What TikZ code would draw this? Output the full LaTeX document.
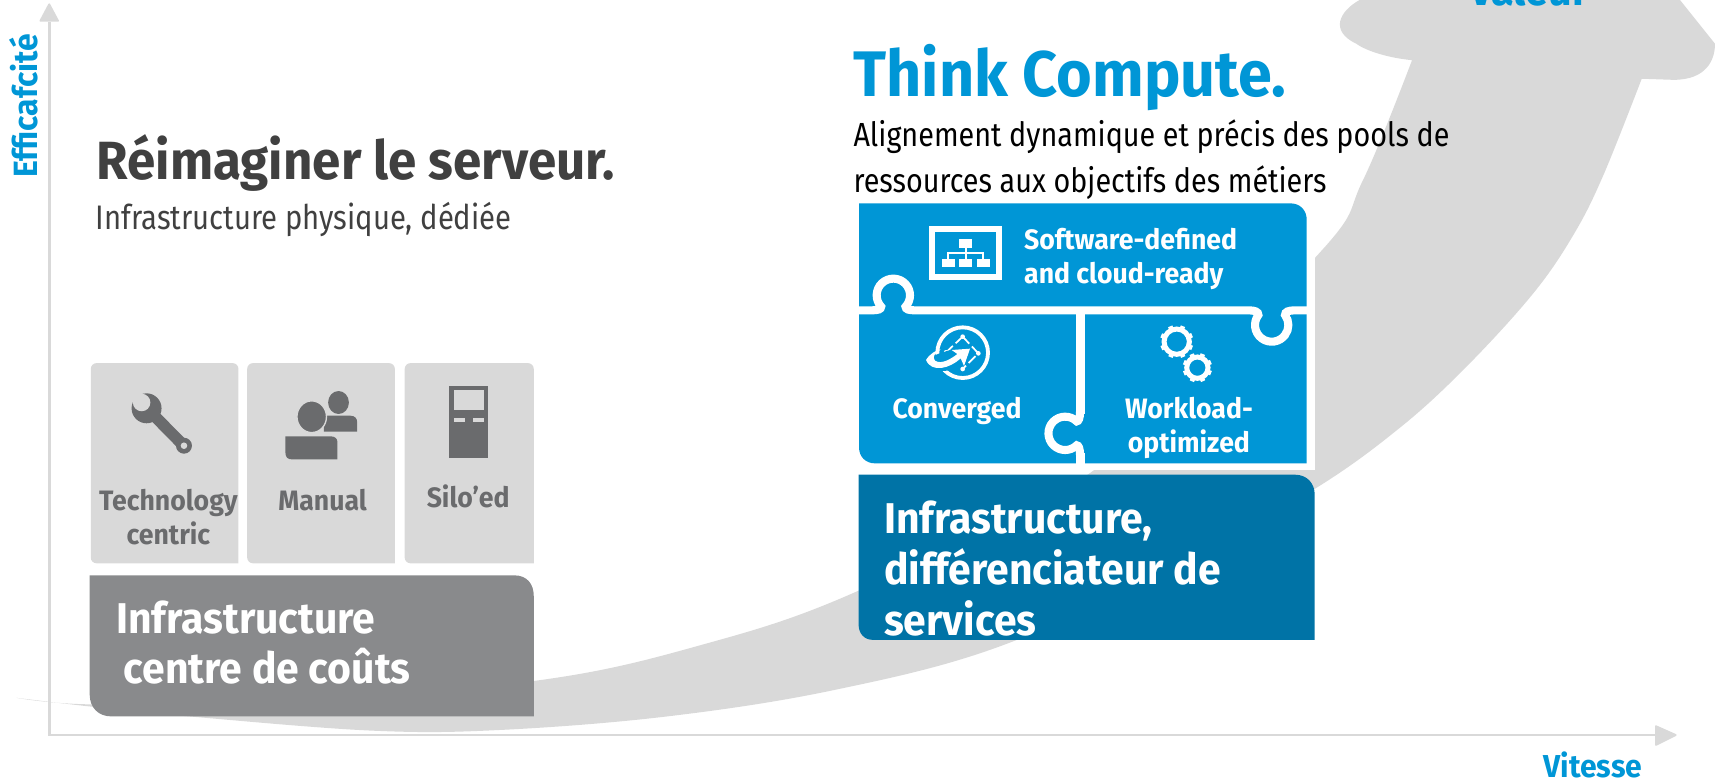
\documentclass[tikz,border=0pt]{standalone}
\usepackage{fontspec}
\setmainfont{Fira Sans}[UprightFeatures={FakeStretch=0.86}, BoldFeatures={FakeStretch=0.95}]
\usetikzlibrary{calc}
\definecolor{hpblue}{HTML}{0096D6}
\definecolor{hpdark}{HTML}{0073A6}
\definecolor{axisgray}{HTML}{D9D9D9}
\definecolor{midgray}{HTML}{898A8C}
\definecolor{icongray}{HTML}{6A6B6D}
\definecolor{titlegray}{HTML}{404040}
\begin{document}
\begin{tikzpicture}[x=0.02cm, y=-0.02cm,
    axisline/.style={draw=axisgray, line width=1.4pt},
    axishead/.style={fill=axisgray, draw=axisgray, line width=1pt, line join=round},
    gapline/.style={draw=white, line width=4.2pt},
    txt/.style={inner sep=0pt, anchor=base west},
    txtmid/.style={inner sep=0pt, anchor=base},
    ttlblue/.style={txt, text=hpblue, font=\fontsize{33.5}{33.5}\selectfont\bfseries},
    ttlgray/.style={txt, text=titlegray, font=\fontsize{28}{28}\selectfont\bfseries},
    subgray/.style={txt, text=titlegray, font=\fontsize{17.7}{17.7}\selectfont},
    subblack/.style={txt, text=black, font=\fontsize{17.4}{17.4}\selectfont},
    tabgray/.style={txtmid, text=icongray, font=\fontsize{14.6}{14.6}\selectfont\bfseries},
    tabwhite/.style={txtmid, text=white, font=\fontsize{14.6}{14.6}\selectfont\bfseries},
    bandtxt/.style={txt, text=white, font=\fontsize{22.4}{22.4}\selectfont\bfseries},
    axislbl/.style={inner sep=0pt, text=hpblue, font=\fontsize{16.5}{16.5}\selectfont\bfseries}]
\clip (0,0) rectangle (1568,714);
\fill[axisgray] plot[smooth, tension=0.6] coordinates {(15,638) (83,646) (173,655) (340,668) (457,667.4) (610,655) (762,631) (914,591) (1080,515) (1202,447) (1280,391) (1341,335) (1402,268) (1439,214) (1466,160) (1501,72)}
    -- (1530,73) .. controls (1560,73) and (1568,55) .. (1568,40) -- (1536,0) -- (1243,0)
    .. controls (1225,10) and (1215,28) .. (1240,40) .. controls (1250,47) and (1270,53) .. (1291,55)
    -- plot[smooth, tension=0.6] coordinates {(1291,55) (1246,165) (1202,236) (1000,430) (785,540) (640,590) (488,622.6) (250,642) (83,644) (15,638)} -- cycle;
\draw[axisline] (45,20) -- (45,672) -- (1514,672);
\filldraw[axishead] (45,4) -- (37,19) -- (53,19) -- cycle;
\filldraw[axishead] (1532,672) -- (1514,664) -- (1514,681) -- cycle;
\node[axislbl, rotate=90, anchor=west, font=\fontsize{17.5}{17.5}\selectfont\bfseries] (effic) at (22,163) {Efficafcité};
\node[axislbl, anchor=base east] (vitesse) at (1502,711) {Vitesse};
\node[axislbl, anchor=base, font=\fontsize{22.7}{22.7}\selectfont\bfseries] (valeur) at (1398,5) {Valeur};
\node[ttlgray] (reimag) at (88,164) {Réimaginer le serveur.};
\node[subgray] (physique) at (87,210) {Infrastructure physique, dédiée};
\node[ttlblue] (think) at (780,88) {Think Compute.};
\node[subblack] (aligne) at (780,134) {Alignement dynamique et précis des pools de};
\node[subblack] (ressources) at (780,176) {ressources aux objectifs des métiers};
\foreach \xa/\xb in {83/218, 226/361, 370/488}
    \fill[axisgray] (\xb,515) [rounded corners=3pt] -- (\xa,515) -- (\xa,332) -- (\xb,332) -- (\xb,515);
\fill[midgray] (82,526) -- (470,526) .. controls (482,526) and (488,534) .. (488,545) -- (488,655) -- (102,655) .. controls (90,655) and (82,647) .. (82,635) -- cycle;
\node[tabgray] (techno) at (154,467) {Technology};
\node[tabgray] (centric) at (154,498) {centric};
\node[tabgray] (manual) at (295,467) {Manual};
\node[tabgray] (silo) at (428,464) {Silo’ed};
\node[bandtxt] (infra) at (106,579) {Infrastructure};
\node[bandtxt] (centre) at (113,625) {centre de coûts};
\draw[icongray, line width=6pt] (138,377) -- (168,407.5);
\fill[icongray] (134,373.3) circle (13.7);
\fill[axisgray] (129.5,368) circle (8);
\fill[axisgray] (121.3,367.2) -- (128.6,359.6) -- (118,350) -- (110,358) -- cycle;
\fill[icongray] (168.2,407.5) circle (7.3);
\fill[axisgray] (168.2,407.5) circle (3);
\fill[icongray] (309.5,368) ellipse (9.5 and 10.5);
\fill[icongray] (296,394.6) -- (296,380) -- (320,380) .. controls (325,380) and (326.5,383) .. (326.5,386) -- (326.5,394.6) -- cycle;
\filldraw[fill=icongray, draw=axisgray, line width=0.7pt] (285,381) ellipse (13.5 and 14.5);
\fill[icongray] (308.5,420) -- (308.5,404) .. controls (308.5,401) and (306,399) .. (303,399) -- (261,399) -- (261,414) .. controls (261,418) and (263,420) .. (267,420) -- cycle;
\fill[icongray] (410.7,353) rectangle (446.3,418.4);
\fill[axisgray] (415.3,357) rectangle (442.4,374.8);
\fill[axisgray] (415.3,382.4) rectangle (425.2,386);
\fill[axisgray] (432.6,382.4) rectangle (442.4,386);
\fill[white] (779,182) rectangle (1202,430);
\fill[hpdark] (785,434) -- (1184,434) .. controls (1195,434) and (1202,442) .. (1202,452) -- (1202,585) -- (798,585) .. controls (790,585) and (785,579) .. (785,571) -- cycle;
\node[bandtxt] (infra2) at (808,488) {Infrastructure,};
\node[bandtxt] (differ) at (808,534) {différenciateur de};
\node[bandtxt] (services) at (808,581) {services};
\begin{scope}[shift={(768,173.7)}, scale=0.3048]
\fill[hpblue] (57,40) -- (1350,40) .. controls (1382,40) and (1400,62) .. (1400,90) -- (1400,820) -- (105,820) .. controls (77,820) and (57,800) .. (57,772) -- cycle;
\draw[gapline] (50,361) -- (95,361) .. controls (115,361) and (123,358) .. (123.4,350) arc[start angle=-223, end angle=43, radius=50]
    .. controls (197,358) and (205,361) .. (225,361) -- (1225,361) .. controls (1245,361) and (1255,365) .. (1255,375)
    arc[start angle=-143, end angle=-397, radius=50] .. controls (1335,365) and (1345,361) .. (1365,361) -- (1408,361);
\draw[gapline] (720,665) .. controls (720,685) and (716,694) .. (710,694) arc[start angle=-46, end angle=-314, radius=50] .. controls (716,766) and (720,775) .. (720,795);
\draw[gapline, line width=5pt] (721,361) -- (721,672) (721,788) -- (721,828);
\draw[white, line width=3.2pt] (276,116) rectangle (478,262);
\fill[white] (357,148) rectangle (397,175);
\draw[white, line width=1pt] (377,175) -- (377,208) (325,208) -- (325,190) -- (430,190) -- (430,208);
\foreach \xa in {305, 357, 410}
    \fill[white] (\xa,208) rectangle ++(40,24);
\draw[white, line width=2pt] (368,488) circle (76);
\foreach \xa/\ya in {368/440, 318/487, 415/490, 368/537}
    \fill[white] (\xa,\ya) circle (7);
\draw[white, line width=0.9pt, dash pattern=on 5pt off 2pt] (368,440) -- (318,487) (368,440) -- (415,490) -- (368,537);
\fill[hpblue] (262,515) .. controls (285,560) and (350,550) .. (400,490) -- (330,480) .. controls (300,490) and (275,495) .. (262,515);
\fill[white] (258,510) .. controls (270,490) and (290,480) .. (302,478) .. controls (285,490) and (275,500) .. (285,512) .. controls (305,525) and (335,505) .. (352,492) -- (335,480) -- (390,476) -- (372,528) -- (362,505) .. controls (330,535) and (275,550) .. (258,510);
\foreach \xa/\ya/\ra in {1010/455/38, 1072/533/32} {
    \draw[white, line width=2.6pt] (\xa,\ya) circle (\ra);
    \foreach \ang in {0, 45, ..., 315}
        \draw[white, line width=2.4pt] (\xa,\ya) ++(\ang+22:\ra) -- ++(\ang+22:12);
}
\end{scope}
\node[txt, text=white, font=\fontsize{14.6}{14.6}\selectfont\bfseries] (software) at (936,228) {Software-defined};
\node[txt, text=white, font=\fontsize{14.6}{14.6}\selectfont\bfseries] (cloud) at (936,259) {and cloud-ready};
\node[tabwhite] (converged) at (875,383) {Converged};
\node[tabwhite] (workload) at (1087,383) {Workload-};
\node[tabwhite] (optimized) at (1087,414) {optimized};
\end{tikzpicture}
\end{document}
